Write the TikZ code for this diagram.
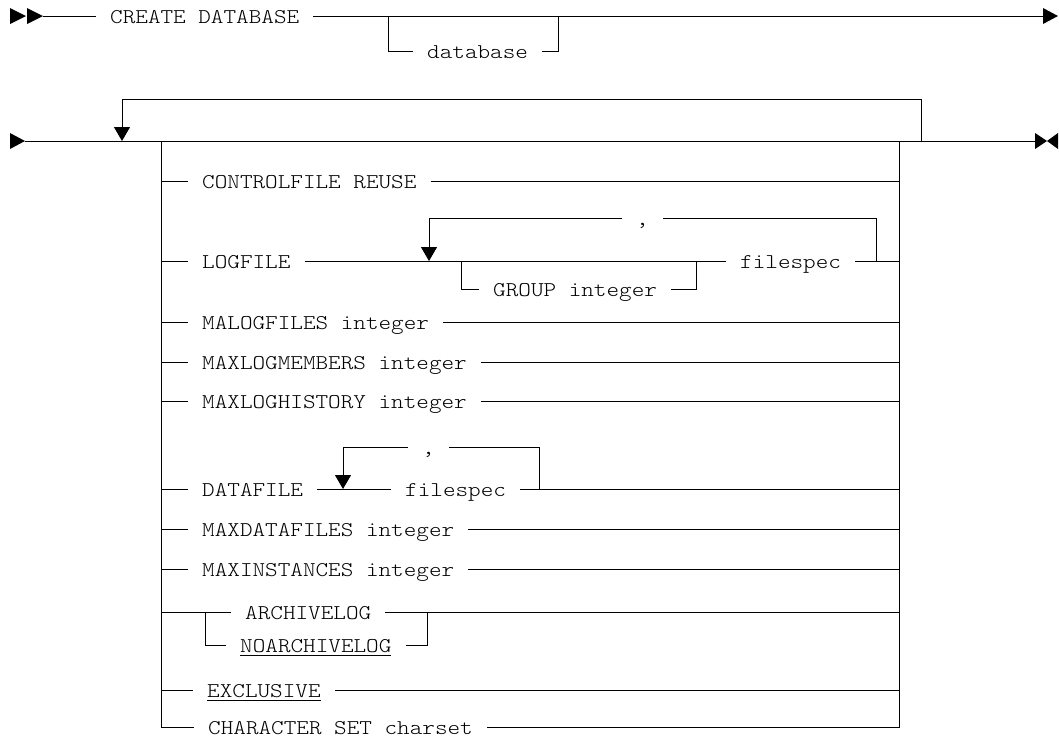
\documentclass[tikz,border=0pt]{standalone}
\usepackage{fontspec}
\newfontfamily\rrfont{Latin Modern Mono Light}[FakeStretch=1.143]
\usetikzlibrary{arrows.meta}
\newcommand\ulx[1]{\setbox0=\hbox{#1}\rlap{\rule[-3.5pt]{\wd0}{1pt}}\box0}
\tikzset{
  rail/.style={line width=1pt, draw=black},
  lbl/.style={font=\rrfont\fontsize{21pt}{21pt}\selectfont, inner xsep=14pt, inner ysep=0pt, anchor=base west, text=black},
  tipdown/.style={rail, -{Triangle[length=14pt,width=16pt]}},
}
\begin{document}
\begin{tikzpicture}[x=1pt,y=-1pt]
\useasboundingbox (0,0) rectangle (1059,739);

% ---------- first line ----------
\coordinate (s1) at (43,16);
\coordinate (e1) at (1043,16);
\fill (10,8) -- (26,16) -- (10,24) -- cycle;
\fill (27,8) -- (43,16) -- (27,24) -- cycle;
\fill (1043,8) -- (1058,16) -- (1043,24) -- cycle;
\node[lbl] (cd) at (96,23) {CREATE DATABASE};
\draw[rail] (s1) -- (s1 -| cd.west);
\draw[rail] (s1 -| cd.east) -- (e1);
\coordinate (db1) at (388,16);
\coordinate (db2) at (558,16);
\coordinate (dbrow) at (0,51);
\node[lbl] (db) at (413,58) {database};
\draw[rail] (db1) |- (dbrow -| db.west);
\draw[rail] (dbrow -| db.east) -| (db2);

% ---------- second line ----------
\coordinate (s2) at (25,141);
\coordinate (e2) at (1035,141);
\fill (10,133) -- (25,141) -- (10,149) -- cycle;
\fill (1035,133) -- (1047,141) -- (1035,149) -- cycle;
\fill (1058,133) -- (1047,141) -- (1058,149) -- cycle;
\draw[rail] (s2) -- (e2);
\coordinate (lpR) at (921,141);
\coordinate (lpT) at (921,99);
\coordinate (lpL) at (122,141);
\draw[tipdown] (lpR) -- (lpT) -| (lpL);

% choice verticals
\coordinate (cL) at (161,141);
\coordinate (cR) at (899,141);

% row coordinates
\coordinate (r1) at (0,181);
\coordinate (r2) at (0,261);
\coordinate (r3) at (0,322);
\coordinate (r4) at (0,362);
\coordinate (r5) at (0,401);
\coordinate (r6) at (0,489);
\coordinate (r7) at (0,529);
\coordinate (r8) at (0,569);
\coordinate (r9) at (0,612);
\coordinate (r9b) at (0,645);
\coordinate (r10) at (0,690);
\coordinate (r11) at (0,727);

% texts
\node[lbl] (t1) at (188,188) {CONTROLFILE REUSE};
\node[lbl] (t2) at (188,268) {LOGFILE};
\node[lbl] (t3) at (188,329) {MALOGFILES integer};
\node[lbl] (t4) at (188,369) {MAXLOGMEMBERS integer};
\node[lbl] (t5) at (188,408) {MAXLOGHISTORY integer};
\node[lbl] (t6) at (188,496) {DATAFILE};
\node[lbl] (t7) at (188,536) {MAXDATAFILES integer};
\node[lbl] (t8) at (188,576) {MAXINSTANCES integer};
\node[lbl] (t9) at (231,619) {ARCHIVELOG};
\node[lbl] (t9b) at (226,652) {\ulx{NOARCHIVELOG}};
\node[lbl] (t10) at (193,697) {\ulx{EXCLUSIVE}};
\node[lbl] (t11) at (194,734) {CHARACTER SET charset};

% outer verticals with last row
\draw[rail] (cL) |- (r11 -| t11.west);
\draw[rail] (r11 -| t11.east) -| (cR);

% simple rows
\foreach \t/\r in {t1/r1,t3/r3,t4/r4,t5/r5,t7/r7,t8/r8,t9/r9,t10/r10}{
  \draw[rail] (\r -| cL) -- (\r -| \t.west);
  \draw[rail] (\r -| \t.east) -- (\r -| cR);
}

% LOGFILE row
\node[lbl] (fs1) at (726,268) {filespec};
\node[lbl] (grp) at (479,296) {GROUP integer};
\node[lbl] (cm1) at (622,225) {,};
\draw[rail] (r2 -| cL) -- (r2 -| t2.west);
\draw[rail] (r2 -| t2.east) -- (r2 -| fs1.west);
\draw[rail] (r2 -| fs1.east) -- (r2 -| cR);
\coordinate (l2R) at (876,261);
\coordinate (l2L) at (429,261);
\coordinate (l2T) at (0,218);
\draw[rail] (l2R) |- (l2T -| cm1.east);
\draw[tipdown] (l2T -| cm1.west) -| (l2L);
\coordinate (g1) at (461,261);
\coordinate (g2) at (696,261);
\coordinate (gr) at (0,289);
\draw[rail] (g1) |- (gr -| grp.west);
\draw[rail] (gr -| grp.east) -| (g2);

% DATAFILE row
\node[lbl] (fs2) at (391,496) {filespec};
\node[lbl] (cm2) at (408,454) {,};
\draw[rail] (r6 -| cL) -- (r6 -| t6.west);
\draw[rail] (r6 -| t6.east) -- (r6 -| fs2.west);
\draw[rail] (r6 -| fs2.east) -- (r6 -| cR);
\coordinate (l6R) at (539,489);
\coordinate (l6L) at (343,489);
\coordinate (l6T) at (0,447);
\draw[rail] (l6R) |- (l6T -| cm2.east);
\draw[tipdown] (l6T -| cm2.west) -| (l6L);

% ARCHIVELOG / NOARCHIVELOG
\coordinate (a1) at (205,612);
\coordinate (a2) at (427,612);
\draw[rail] (a1) |- (r9b -| t9b.west);
\draw[rail] (r9b -| t9b.east) -| (a2);
\end{tikzpicture}
\end{document}
